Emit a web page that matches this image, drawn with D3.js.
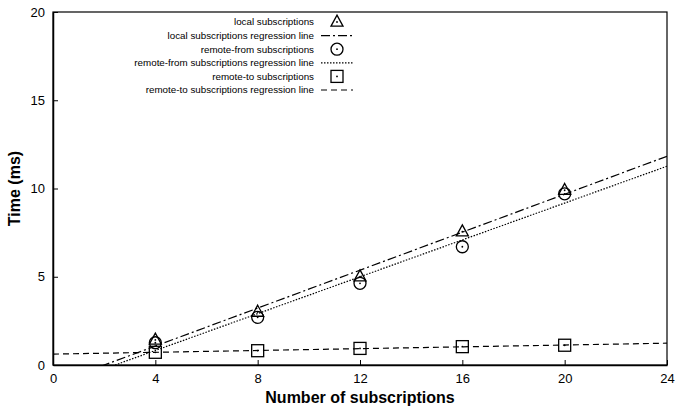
<!DOCTYPE html>
<html>
<head>
<meta charset="utf-8">
<script src="https://cdn.jsdelivr.net/npm/d3@7"></script>
<style>
  html, body { margin: 0; padding: 0; background: #fff; }
  svg { display: block; font-family: "Liberation Sans", Arial, Helvetica, sans-serif; }
</style>
</head>
<body>
<svg id="chart" width="676" height="408"></svg>
<script>
// Measured subscription counts and timings (ms)
const subscriptions = [4, 8, 12, 16, 20];
const localTimes = [1.42, 3.0, 5.0, 7.55, 9.9];
const remoteFromTimes = [1.26, 2.7, 4.63, 6.7, 9.7];
const remoteToTimes = [0.72, 0.81, 0.94, 1.04, 1.12];

const xTicks = [0, 4, 8, 12, 16, 20, 24];
const yTicks = [0, 5, 10, 15, 20];

const seriesNames = [
  "local subscriptions",
  "remote-from subscriptions",
  "remote-to subscriptions"
];
const seriesSymbols = ["triangle", "circle", "square"];
const seriesDashes = ["9,3,2,3", "1.5,1.5", "6,4"];

const margin = { left: 53, right: 9, top: 12, bottom: 43 };
const W = 676, H = 408;
const svg = d3.select("#chart");

const x = d3.scaleLinear().domain([0, 24]).range([margin.left, W - margin.right]);
const y = d3.scaleLinear().domain([0, 20]).range([H - margin.bottom, margin.top]);

// least-squares fit for each series
function fit(xs, ys) {
  const mx = d3.mean(xs), my = d3.mean(ys);
  const sxy = d3.sum(xs, (v, i) => (v - mx) * (ys[i] - my));
  const sxx = d3.sum(xs, v => (v - mx) * (v - mx));
  const slope = sxy / sxx;
  return { slope, intercept: my - slope * mx };
}

const series = [localTimes, remoteFromTimes, remoteToTimes].map((vals, i) => ({
  name: seriesNames[i],
  symbol: seriesSymbols[i],
  dash: seriesDashes[i],
  points: subscriptions.map((s, j) => ({ x: s, y: vals[j] })),
  fit: fit(subscriptions, vals)
}));

svg.append("defs").append("clipPath").attr("id", "plot-clip")
  .append("rect")
  .attr("x", x(0)).attr("y", y(20))
  .attr("width", x(24) - x(0)).attr("height", y(0) - y(20));

// frame
svg.append("rect")
  .attr("x", x(0)).attr("y", y(20))
  .attr("width", x(24) - x(0)).attr("height", y(0) - y(20))
  .attr("fill", "none").attr("stroke", "#000").attr("stroke-width", 1.2);

// axes with inward ticks
const xAxis = svg.append("g").attr("transform", `translate(0,${y(0)})`)
  .call(d3.axisBottom(x).tickValues(xTicks).tickSizeInner(-5).tickSizeOuter(0).tickPadding(9));
const yAxis = svg.append("g").attr("transform", `translate(${x(0)},0)`)
  .call(d3.axisLeft(y).tickValues(yTicks).tickSizeInner(-5).tickSizeOuter(0).tickPadding(8));
[xAxis, yAxis].forEach(a => {
  a.select(".domain").attr("stroke", "#000").attr("stroke-width", 1.5);
  a.selectAll(".tick line").attr("stroke", "#000");
  a.selectAll(".tick text").attr("font-size", 13).attr("fill", "#000")
    .attr("font-family", "Liberation Sans, Arial, sans-serif");
});

// axis titles
svg.append("text")
  .attr("x", (x(0) + x(24)) / 2).attr("y", 403)
  .attr("text-anchor", "middle").attr("font-weight", "bold").attr("font-size", 16)
  .text("Number of subscriptions");
svg.append("text")
  .attr("transform", `translate(20,${(y(0) + y(20)) / 2}) rotate(-90)`)
  .attr("text-anchor", "middle").attr("font-weight", "bold").attr("font-size", 16)
  .text("Time (ms)");

// regression lines
const plot = svg.append("g").attr("clip-path", "url(#plot-clip)");
const line = d3.line().x(d => x(d[0])).y(d => y(d[1]));
series.forEach(s => {
  const ends = x.domain().map(v => [v, s.fit.intercept + s.fit.slope * v]);
  plot.append("path")
    .attr("d", line(ends))
    .attr("fill", "none").attr("stroke", "#000").attr("stroke-width", 1.2)
    .attr("stroke-dasharray", s.dash);
});

// point markers: outline shape with a center dot
function drawMarker(g, kind, cx, cy) {
  if (kind === "triangle") {
    const h = 11, w = 12;
    g.append("path")
      .attr("d", `M${cx},${cy - h * 0.62}L${cx + w / 2},${cy + h * 0.38}L${cx - w / 2},${cy + h * 0.38}Z`)
      .attr("fill", "none").attr("stroke", "#000").attr("stroke-width", 1.3);
  } else if (kind === "circle") {
    g.append("circle").attr("cx", cx).attr("cy", cy).attr("r", 6)
      .attr("fill", "none").attr("stroke", "#000").attr("stroke-width", 1.3);
  } else {
    g.append("rect").attr("x", cx - 6).attr("y", cy - 6).attr("width", 12).attr("height", 12)
      .attr("fill", "none").attr("stroke", "#000").attr("stroke-width", 1.3);
  }
  g.append("circle").attr("cx", cx).attr("cy", cy).attr("r", 0.9).attr("fill", "#000");
}

const marks = svg.append("g");
series.forEach(s => {
  s.points.forEach(p => drawMarker(marks, s.symbol, x(p.x), y(p.y)));
});

// legend
const legend = svg.append("g");
const rowH = 13.6, textRight = 314, sampleX0 = 321, sampleX1 = 353, symX = 337;
series.forEach((s, i) => {
  const yPt = 22 + rowH * (2 * i);
  const yLn = yPt + rowH;
  legend.append("text").attr("x", textRight).attr("y", yPt).attr("dy", "0.35em")
    .attr("text-anchor", "end").attr("font-size", 9.8).text(s.name);
  drawMarker(legend, s.symbol, symX, yPt);
  legend.append("text").attr("x", textRight).attr("y", yLn).attr("dy", "0.35em")
    .attr("text-anchor", "end").attr("font-size", 9.8).text(s.name + " regression line");
  legend.append("line").attr("x1", sampleX0).attr("x2", sampleX1).attr("y1", yLn).attr("y2", yLn)
    .attr("stroke", "#000").attr("stroke-width", 1.2).attr("stroke-dasharray", s.dash);
});
</script>
</body>
</html>
